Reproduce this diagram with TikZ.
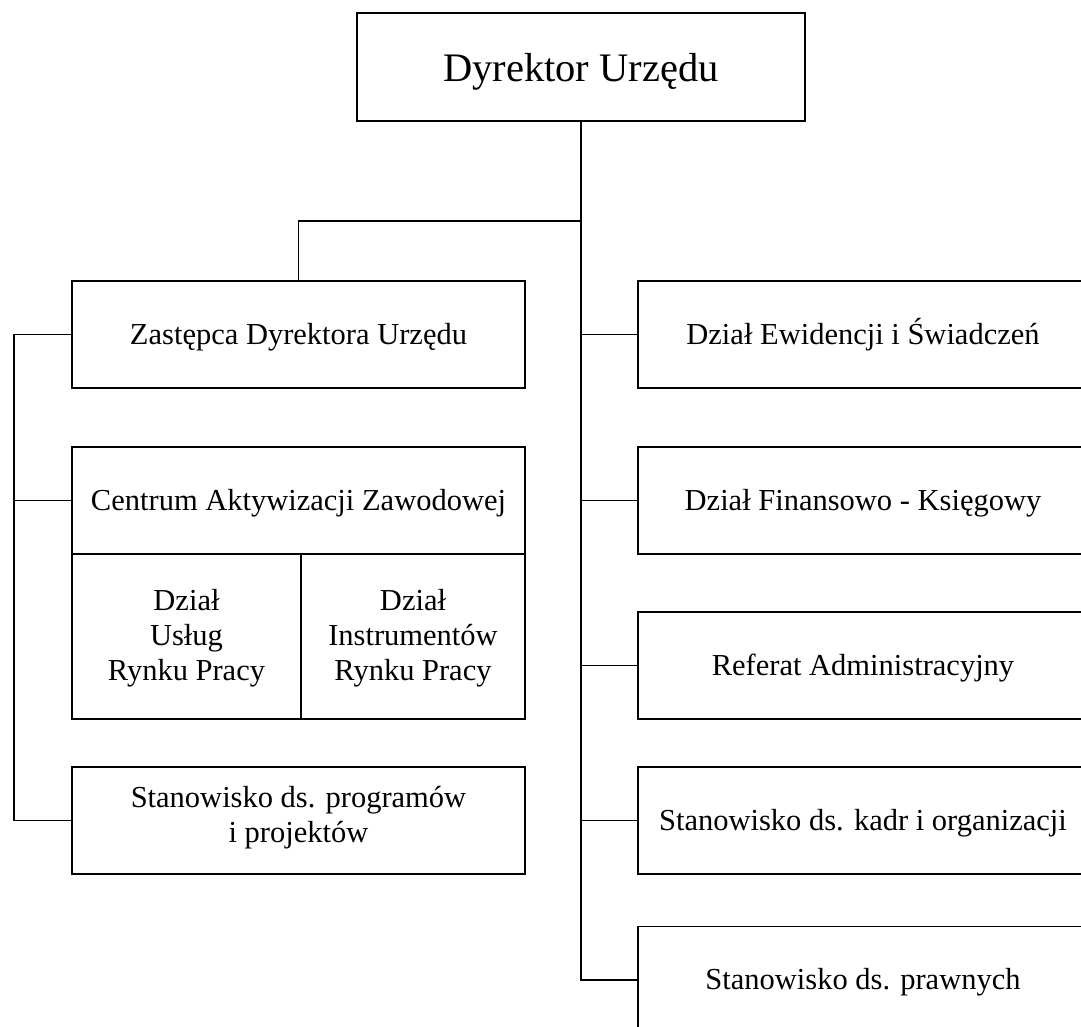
\documentclass[tikz,border=0pt]{standalone}
\usepackage{fontspec}
\setmainfont{Liberation Serif}
\begin{document}
\begin{tikzpicture}[x=1pt,y=-1pt,
  line width=1.3pt,
  box/.style={draw, line width=1.3pt, inner sep=0pt, align=center,
    minimum width=453pt, minimum height=107pt,
    text height=19.5pt, text depth=0pt,
    font=\fontsize{30.5}{35}\selectfont},
  rbox/.style={box, minimum width=450pt},
  cell/.style={box, minimum height=165pt, text height=87pt},
  topbox/.style={box, minimum width=448pt, minimum height=108pt,
    text height=30pt, font=\fontsize{40.5}{46}\selectfont}]
\useasboundingbox (0,0) rectangle (1081,1027);
\clip (0,0) rectangle (1081,1027);
% nodes
\node[topbox] (dir) at (581,67) {Dyrektor Urzędu};
\node[box] (zast) at (298.5,334.5) {Zastępca Dyrektora Urzędu};
\node[box] (caz) at (298.5,500.5) {Centrum Aktywizacji Zawodowej};
\node[cell, minimum width=229pt] (usl) at (186.5,636.5) {Dział\\Usług\\Rynku Pracy};
\node[cell, minimum width=224pt] (ins) at (413,636.5) {Dział\\Instrumentów\\Rynku Pracy};
\node[box, text height=43pt] (prog) at (298.5,820.5) {Stanowisko ds. programów\\i projektów};
\node[rbox] (ewi) at (863,334.5) {Dział Ewidencji i Świadczeń};
\node[rbox] (fin) at (863,500.5) {Dział Finansowo - Księgowy};
\node[rbox] (ref) at (863,665.5) {Referat Administracyjny};
\node[rbox] (kad) at (863,820.5) {Stanowisko ds. kadr i organizacji};
\node[rbox] (pra) at (863,980) {Stanowisko ds. prawnych};
% connectors
\coordinate (j) at (581,221);
\coordinate (bus) at (14,0);
\draw (dir.south) -- (dir.south |- pra.west) -- (pra.west);
\draw (j) -| (zast.north);
\draw (dir.south |- ewi.west) -- (ewi.west);
\draw (dir.south |- fin.west) -- (fin.west);
\draw (dir.south |- ref.west) -- (ref.west);
\draw (dir.south |- kad.west) -- (kad.west);
\draw (zast.west) -- (zast.west -| bus) -- (prog.west -| bus) -- (prog.west);
\draw (caz.west -| bus) -- (caz.west);
\end{tikzpicture}
\end{document}
